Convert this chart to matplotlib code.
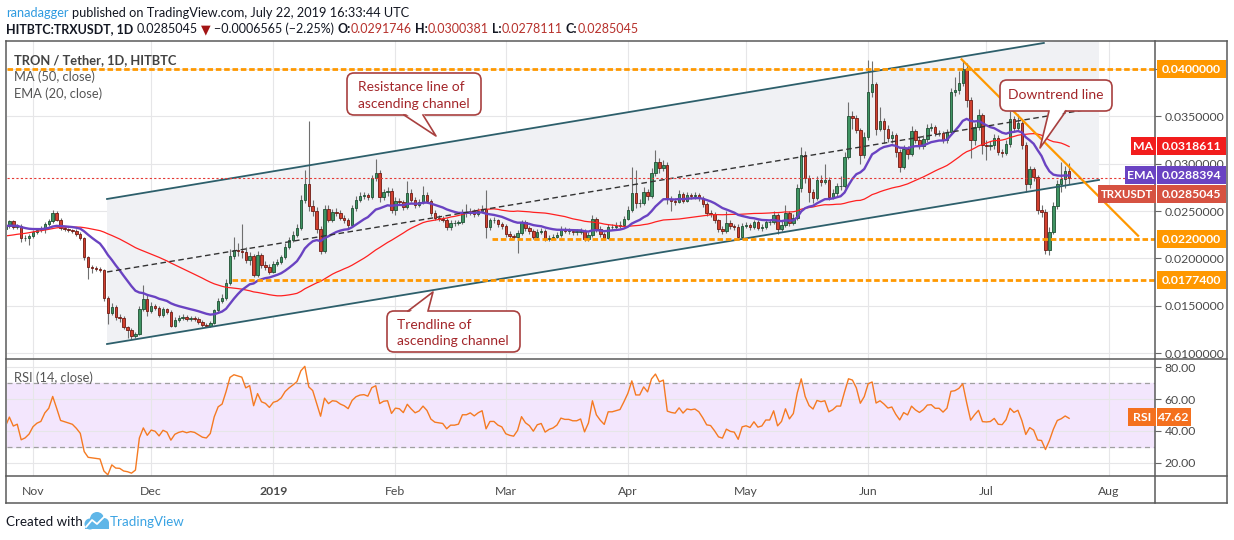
import numpy as np
import pandas as pd
import matplotlib
matplotlib.use("Agg")
import matplotlib.pyplot as plt
import matplotlib.dates as mdates
from matplotlib.patches import Rectangle, FancyBboxPatch, Polygon, Circle
from matplotlib.lines import Line2D

plt.rcParams['font.family'] = ['Lato', 'DejaVu Sans']

# ---------------- data ----------------
start_date = "2018-10-25"
first_open = 0.0231

closes = [
    0.0234, 0.0239, 0.0233, 0.0234, 0.0221, 0.0222, 0.0224, 0.0228, 0.0230, 0.0231,
    0.0236, 0.0239, 0.0248, 0.0241, 0.0232, 0.0231, 0.0230, 0.0229, 0.0226, 0.0222,
    0.0201, 0.0191, 0.0190, 0.0189, 0.0188, 0.0158, 0.0142, 0.0149, 0.0138, 0.0137,
    0.0127, 0.0124, 0.0118, 0.0120, 0.0146, 0.0157, 0.0144, 0.0150, 0.0148, 0.0140,
    0.0146, 0.0143, 0.0129, 0.0135, 0.0137, 0.0138, 0.0136, 0.0137, 0.0136, 0.0133,
    0.0130, 0.0129, 0.0132, 0.0145, 0.0155, 0.0158, 0.0174, 0.0202, 0.0209, 0.0208,
    0.0207, 0.0198, 0.0202, 0.0182, 0.0203, 0.0193, 0.0191, 0.0186, 0.0194, 0.0196,
    0.0201, 0.0212, 0.0219, 0.0225, 0.0232, 0.0262, 0.0279, 0.0255, 0.0250, 0.0231,
    0.0208, 0.0252, 0.0241, 0.0249, 0.0248, 0.0243, 0.0240, 0.0235, 0.0253, 0.0262,
    0.0266, 0.0267, 0.0265, 0.0285, 0.0290, 0.0265, 0.0270, 0.0271, 0.0251, 0.0261,
    0.0260, 0.0254, 0.0269, 0.0262, 0.0256, 0.0259, 0.0267, 0.0261, 0.0248, 0.0243,
    0.0242, 0.0241, 0.0233, 0.0237, 0.0237, 0.0238, 0.0248, 0.0248, 0.0250, 0.0247,
    0.0250, 0.0252, 0.0233, 0.0240, 0.0240, 0.0236, 0.0234, 0.0226, 0.0224, 0.0223,
    0.0227, 0.0238, 0.0232, 0.0229, 0.0223, 0.0228, 0.0229, 0.0220, 0.0222, 0.0223,
    0.0225, 0.0230, 0.0229, 0.0229, 0.0228, 0.0228, 0.0229, 0.0220, 0.0225, 0.0242,
    0.0231, 0.0226, 0.0222, 0.0233, 0.0233, 0.0234, 0.0235, 0.0242, 0.0251, 0.0269,
    0.0258, 0.0258, 0.0270, 0.0266, 0.0290, 0.0302, 0.0295, 0.0299, 0.0263, 0.0261,
    0.0260, 0.0268, 0.0261, 0.0267, 0.0266, 0.0267, 0.0264, 0.0257, 0.0248, 0.0247,
    0.0240, 0.0231, 0.0229, 0.0237, 0.0234, 0.0233, 0.0223, 0.0234, 0.0235, 0.0233,
    0.0238, 0.0232, 0.0233, 0.0238, 0.0238, 0.0246, 0.0231, 0.0235, 0.0248, 0.0237,
    0.0243, 0.0274, 0.0309, 0.0285, 0.0270, 0.0264, 0.0283, 0.0281, 0.0283, 0.0265,
    0.0269, 0.0276, 0.0276, 0.0307, 0.0350, 0.0348, 0.0336, 0.0309, 0.0328, 0.0376,
    0.0384, 0.0337, 0.0345, 0.0337, 0.0327, 0.0330, 0.0312, 0.0297, 0.0316, 0.0310,
    0.0334, 0.0325, 0.0319, 0.0326, 0.0338, 0.0339, 0.0332, 0.0332, 0.0325, 0.0333,
    0.0376, 0.0378, 0.0385, 0.0400, 0.0367, 0.0325, 0.0339, 0.0351, 0.0320, 0.0319,
    0.0320, 0.0327, 0.0312, 0.0311, 0.0321, 0.0347, 0.0338, 0.0343, 0.0320, 0.0279,
    0.0294, 0.0286, 0.0251, 0.0249, 0.0209, 0.0228, 0.0255, 0.0279, 0.0284, 0.0291746,
    0.0285045,
]

highs = [
    0.0237, 0.0241, 0.0240, 0.0236, 0.0236, 0.0225, 0.0226, 0.0230, 0.0232, 0.0234,
    0.0238, 0.0242, 0.0251, 0.0250, 0.0243, 0.0234, 0.0232, 0.0231, 0.0231, 0.0228,
    0.0223, 0.0202, 0.0193, 0.0192, 0.0191, 0.0189, 0.0160, 0.0153, 0.0151, 0.0141,
    0.0139, 0.0129, 0.0126, 0.0122, 0.0150, 0.0172, 0.0162, 0.0154, 0.0152, 0.0150,
    0.0149, 0.0148, 0.0145, 0.0138, 0.0140, 0.0141, 0.0140, 0.0139, 0.0139, 0.0138,
    0.0135, 0.0132, 0.0134, 0.0147, 0.0158, 0.0162, 0.0178, 0.0210, 0.0223, 0.0216,
    0.0236, 0.0212, 0.0207, 0.0205, 0.0208, 0.0206, 0.0197, 0.0194, 0.0197, 0.0199,
    0.0204, 0.0216, 0.0223, 0.0229, 0.0236, 0.0267, 0.0293, 0.0345, 0.0262, 0.0254,
    0.0234, 0.0256, 0.0256, 0.0252, 0.0253, 0.0251, 0.0246, 0.0243, 0.0256, 0.0266,
    0.0270, 0.0270, 0.0269, 0.0288, 0.0305, 0.0293, 0.0273, 0.0275, 0.0274, 0.0265,
    0.0264, 0.0262, 0.0282, 0.0273, 0.0265, 0.0263, 0.0276, 0.0270, 0.0263, 0.0251,
    0.0246, 0.0245, 0.0243, 0.0240, 0.0240, 0.0241, 0.0252, 0.0257, 0.0253, 0.0252,
    0.0253, 0.0256, 0.0272, 0.0243, 0.0244, 0.0242, 0.0238, 0.0236, 0.0229, 0.0226,
    0.0230, 0.0241, 0.0240, 0.0234, 0.0231, 0.0231, 0.0232, 0.0231, 0.0225, 0.0226,
    0.0228, 0.0234, 0.0233, 0.0232, 0.0231, 0.0231, 0.0232, 0.0231, 0.0228, 0.0246,
    0.0244, 0.0234, 0.0228, 0.0236, 0.0236, 0.0238, 0.0239, 0.0245, 0.0255, 0.0296,
    0.0293, 0.0263, 0.0275, 0.0273, 0.0295, 0.0314, 0.0306, 0.0304, 0.0302, 0.0266,
    0.0264, 0.0272, 0.0270, 0.0270, 0.0269, 0.0270, 0.0269, 0.0266, 0.0259, 0.0251,
    0.0249, 0.0242, 0.0234, 0.0250, 0.0240, 0.0236, 0.0236, 0.0237, 0.0238, 0.0237,
    0.0241, 0.0240, 0.0236, 0.0241, 0.0241, 0.0250, 0.0248, 0.0239, 0.0256, 0.0250,
    0.0247, 0.0278, 0.0318, 0.0313, 0.0288, 0.0273, 0.0287, 0.0288, 0.0300, 0.0286,
    0.0273, 0.0280, 0.0287, 0.0312, 0.0365, 0.0356, 0.0351, 0.0338, 0.0333, 0.0410,
    0.0408, 0.0386, 0.0360, 0.0348, 0.0341, 0.0334, 0.0332, 0.0315, 0.0320, 0.0319,
    0.0340, 0.0337, 0.0328, 0.0330, 0.0342, 0.0343, 0.0341, 0.0336, 0.0334, 0.0337,
    0.0380, 0.0392, 0.0398, 0.0410, 0.0406, 0.0370, 0.0343, 0.0358, 0.0354, 0.0325,
    0.0324, 0.0331, 0.0330, 0.0316, 0.0325, 0.0356, 0.0350, 0.0352, 0.0346, 0.0323,
    0.0298, 0.0297, 0.0288, 0.0256, 0.0252, 0.0233, 0.0259, 0.0283, 0.0302, 0.0298,
    0.0300381,
]

lows = [
    0.0229, 0.0232, 0.0231, 0.0231, 0.0217, 0.0218, 0.0214, 0.0222, 0.0226, 0.0228,
    0.0227, 0.0234, 0.0237, 0.0239, 0.0230, 0.0229, 0.0228, 0.0227, 0.0224, 0.0219,
    0.0198, 0.0178, 0.0184, 0.0187, 0.0186, 0.0155, 0.0131, 0.0140, 0.0135, 0.0133,
    0.0125, 0.0116, 0.0115, 0.0116, 0.0119, 0.0144, 0.0139, 0.0142, 0.0145, 0.0138,
    0.0138, 0.0141, 0.0127, 0.0127, 0.0133, 0.0135, 0.0134, 0.0134, 0.0134, 0.0131,
    0.0128, 0.0127, 0.0127, 0.0131, 0.0143, 0.0153, 0.0156, 0.0172, 0.0199, 0.0202,
    0.0200, 0.0195, 0.0193, 0.0180, 0.0180, 0.0190, 0.0188, 0.0183, 0.0185, 0.0192,
    0.0194, 0.0199, 0.0210, 0.0217, 0.0223, 0.0230, 0.0258, 0.0250, 0.0245, 0.0227,
    0.0205, 0.0206, 0.0238, 0.0238, 0.0245, 0.0240, 0.0237, 0.0232, 0.0233, 0.0250,
    0.0259, 0.0263, 0.0262, 0.0263, 0.0282, 0.0260, 0.0262, 0.0266, 0.0248, 0.0246,
    0.0256, 0.0251, 0.0252, 0.0259, 0.0253, 0.0254, 0.0257, 0.0258, 0.0245, 0.0240,
    0.0239, 0.0238, 0.0230, 0.0230, 0.0234, 0.0235, 0.0236, 0.0244, 0.0246, 0.0244,
    0.0245, 0.0248, 0.0222, 0.0230, 0.0237, 0.0233, 0.0231, 0.0223, 0.0221, 0.0220,
    0.0206, 0.0225, 0.0229, 0.0226, 0.0220, 0.0221, 0.0226, 0.0218, 0.0218, 0.0220,
    0.0221, 0.0223, 0.0227, 0.0226, 0.0225, 0.0225, 0.0226, 0.0218, 0.0218, 0.0223,
    0.0228, 0.0223, 0.0219, 0.0220, 0.0230, 0.0231, 0.0232, 0.0233, 0.0240, 0.0249,
    0.0253, 0.0254, 0.0256, 0.0262, 0.0264, 0.0287, 0.0290, 0.0292, 0.0257, 0.0250,
    0.0256, 0.0258, 0.0258, 0.0259, 0.0263, 0.0263, 0.0261, 0.0254, 0.0245, 0.0244,
    0.0237, 0.0228, 0.0226, 0.0227, 0.0231, 0.0230, 0.0221, 0.0221, 0.0232, 0.0230,
    0.0231, 0.0230, 0.0229, 0.0231, 0.0235, 0.0236, 0.0226, 0.0229, 0.0233, 0.0234,
    0.0235, 0.0241, 0.0270, 0.0280, 0.0260, 0.0258, 0.0262, 0.0276, 0.0278, 0.0262,
    0.0263, 0.0266, 0.0272, 0.0274, 0.0305, 0.0337, 0.0332, 0.0300, 0.0306, 0.0325,
    0.0370, 0.0330, 0.0334, 0.0322, 0.0323, 0.0322, 0.0307, 0.0291, 0.0294, 0.0305,
    0.0308, 0.0322, 0.0316, 0.0316, 0.0323, 0.0334, 0.0329, 0.0329, 0.0322, 0.0322,
    0.0330, 0.0372, 0.0374, 0.0382, 0.0360, 0.0306, 0.0320, 0.0336, 0.0310, 0.0304,
    0.0314, 0.0315, 0.0309, 0.0307, 0.0309, 0.0318, 0.0334, 0.0336, 0.0316, 0.0270,
    0.0274, 0.0282, 0.0247, 0.0244, 0.0205, 0.0203, 0.0226, 0.0252, 0.0270, 0.0274,
    0.0278111,
]

# closes of Sep 5 - Oct 24 2018, only used to warm up MA / EMA / RSI
prior_closes = [
    0.0235, 0.0212, 0.0205, 0.0200, 0.0198, 0.0196, 0.0190, 0.0186, 0.0195, 0.0201,
    0.0203, 0.0200, 0.0205, 0.0206, 0.0210, 0.0214, 0.0228, 0.0226, 0.0230, 0.0225,
    0.0228, 0.0226, 0.0232, 0.0230, 0.0229, 0.0232, 0.0236, 0.0234, 0.0231, 0.0233,
    0.0236, 0.0237, 0.0235, 0.0236, 0.0238, 0.0240, 0.0226, 0.0228, 0.0231, 0.0235,
    0.0238, 0.0240, 0.0237, 0.0236, 0.0238, 0.0237, 0.0236, 0.0238, 0.0234, 0.0231,
]

last_price = 0.0285045
ma_last = 0.0318611
ema_last = 0.0288394
rsi_last = 47.62
price_ticks = [0.010, 0.015, 0.020, 0.025, 0.030, 0.035, 0.040]
rsi_ticks = [20, 40, 60, 80]
month_starts = ["2018-11-01", "2018-12-01", "2019-01-01", "2019-02-01", "2019-03-01",
                "2019-04-01", "2019-05-01", "2019-06-01", "2019-07-01", "2019-08-01"]
month_labels = ["Nov", "Dec", "2019", "Feb", "Mar", "Apr", "May", "Jun", "Jul", "Aug"]

# horizontal levels (price, start date)
levels = [(0.0400, "2018-10-25"), (0.0220, "2019-02-25 12:00"), (0.01774, "2018-12-21 10:00")]
level_texts = ["0.0400000", "0.0220000", "0.0177400"]
# drawings: (date, price) anchors
upper_channel = [("2018-11-19 19:00", 0.02627), ("2019-07-15 14:00", 0.04275)]
lower_channel = [("2018-11-19 19:00", 0.01095), ("2019-07-29 14:00", 0.02828)]
mid_channel = [("2018-11-19 19:00", 0.01856), ("2019-07-29 19:00", 0.03595)]
downtrend = [("2019-06-24 17:00", 0.04102), ("2019-08-08 12:00", 0.02239)]

# ---------------- computations ----------------
dates = pd.date_range(start_date, periods=len(closes), freq="D")
x = mdates.date2num(dates)
c = np.array(closes)
o = np.array([first_open] + closes[:-1])
h = np.array(highs)
l = np.array(lows)

allc = pd.Series(prior_closes + closes)
n0 = len(prior_closes)
ma = allc.rolling(50).mean().values[n0:]
ema = allc.ewm(span=20, adjust=False).mean().values[n0:]
d = allc.diff()
ag = d.clip(lower=0).ewm(alpha=1 / 14, adjust=False).mean()
al = (-d.clip(upper=0)).ewm(alpha=1 / 14, adjust=False).mean()
rsi = (100 - 100 / (1 + ag / al)).values[n0:]

def dn(s):
    return mdates.date2num(pd.Timestamp(s))

# ---------------- figure ----------------
W, H = 1234, 540
fig = plt.figure(figsize=(W / 100, H / 100), dpi=100, facecolor="white")

def frac(x0, y0, x1, y1):
    return [x0 / W, 1 - y1 / H, (x1 - x0) / W, (y1 - y0) / H]

ax = fig.add_axes(frac(7, 41, 1155, 359))
axr = fig.add_axes(frac(7, 359, 1155, 476))
x0 = x[0] + 0.4
x1 = x[0] + 291.8
for a in (ax, axr):
    a.set_xlim(x0, x1)
    for s in a.spines.values():
        s.set_visible(False)
ax.set_ylim(0.009367, 0.042958)
axr.set_ylim(11.6, 85.2)

mnum = [dn(m) for m in month_starts]
grid_c = "#e6e6e8"
for a in (ax, axr):
    a.set_xticks(mnum)
    a.grid(True, color=grid_c, lw=0.8, zorder=0)
    a.set_axisbelow(True)
ax.set_xticklabels([])
ax.tick_params(axis="x", length=0)
axr.set_xticklabels(month_labels)
axr.tick_params(axis="x", length=0, pad=7, labelsize=8.8, labelcolor="#4a4a4a")
axr.get_xticklabels()[2].set_fontweight("bold")

ax.yaxis.tick_right()
ax.set_yticks(price_ticks)
# the top tick label sits under the orange 0.0400000 level tag, as in the reference
ax.set_yticklabels(["%.7f" % p if p < 0.0399 else "" for p in price_ticks])
ax.tick_params(axis="y", length=4, width=0.8, color="#666666", labelsize=8.8,
               labelcolor="#4a4a4a", pad=3)
axr.yaxis.tick_right()
axr.set_yticks(rsi_ticks)
axr.set_yticklabels(["%.2f" % v for v in rsi_ticks])
axr.tick_params(axis="y", length=4, width=0.8, color="#666666", labelsize=8.8,
                labelcolor="#4a4a4a", pad=3)

# channel fill
ux = [dn(p[0]) for p in upper_channel]
uy = [p[1] for p in upper_channel]
lx = [dn(p[0]) for p in lower_channel]
ly = [p[1] for p in lower_channel]
slope_u = (uy[1] - uy[0]) / (ux[1] - ux[0])
u_end = uy[0] + slope_u * (lx[1] - ux[0])
ax.add_patch(Polygon([(ux[0], uy[0]), (lx[1], u_end), (lx[1], ly[1]), (lx[0], ly[0])],
                     closed=True, fc="#f0f1f4", ec="none", zorder=0.6))

# candles
up = c >= o
bot = np.minimum(o, c)
bh = np.maximum(np.abs(c - o), 0.00005)
ax.vlines(x, l, h, color="#6f6f6f", lw=0.8, zorder=2)
ax.bar(x[up], bh[up], bottom=bot[up], width=0.62, color="#3f9463", edgecolor="#1f4f33",
       lw=0.6, zorder=3)
ax.bar(x[~up], bh[~up], bottom=bot[~up], width=0.62, color="#d1402f", edgecolor="#6e1b14",
       lw=0.6, zorder=3)

# indicators
ax.plot(x, ma, color="#ff2020", lw=0.9, zorder=4)
ax.plot(x, ema, color="#6a43c2", lw=1.7, zorder=4)

# drawings
ax.plot(ux, uy, color="#2d5f6b", lw=1.3, zorder=5)
ax.plot(lx, ly, color="#2d5f6b", lw=1.3, zorder=5)
ax.plot([dn(p[0]) for p in mid_channel], [p[1] for p in mid_channel], color="#333333",
        lw=1.0, ls=(0, (4, 2.5)), zorder=5)
ax.plot([dn(p[0]) for p in downtrend], [p[1] for p in downtrend], color="#ff9800",
        lw=1.6, zorder=5)
for (lv, sd) in levels:
    ax.plot([max(dn(sd), x0), x1], [lv, lv], color="#ff9800", lw=2.0, ls=(0, (2, 1)),
            zorder=5)
ax.axhline(last_price, color="#e53935", lw=0.8, ls=(0, (2, 2)), zorder=5)

# RSI
axr.axhspan(30, 70, color="#f3e6fd", zorder=0.5)
axr.axhline(70, color="#a0a0a0", lw=0.9, ls=(0, (4, 3)), zorder=1)
axr.axhline(30, color="#a0a0a0", lw=0.9, ls=(0, (4, 3)), zorder=1)
axr.plot(x, rsi, color="#f57a22", lw=1.0, zorder=3)

# ---------------- overlay ----------------
ov = fig.add_axes([0, 0, 1, 1])
ov.set_xlim(0, W)
ov.set_ylim(H, 0)
ov.axis("off")
ov.patch.set_visible(False)

def py(p):
    return H - ax.transData.transform((x0, p))[1]

def ry(v):
    return H - axr.transData.transform((x0, v))[1]

frame_c = "#5a5a5a"
for seg in [((6, 41), (1227, 41)), ((6, 503), (1227, 503)), ((6, 41), (6, 503)),
            ((1227, 41), (1227, 503)), ((6, 359), (1227, 359)), ((6, 476), (1227, 476)),
            ((1155, 41), (1155, 503))]:
    ov.add_line(Line2D([seg[0][0], seg[1][0]], [seg[0][1], seg[1][1]], color=frame_c,
                       lw=1.1, zorder=9))

def tag(xa, xb, yc, text, col, hh=18, fs=8.8):
    ov.add_patch(Rectangle((xa, yc - hh / 2), xb - xa, hh, fc=col, ec="none", zorder=10))
    ov.text((xa + xb) / 2, yc + 0.5, text, color="white", fontsize=fs, fontweight="bold",
            ha="center", va="center", zorder=11)

for (lv, sd), t in zip(levels, level_texts):
    tag(1157, 1226, py(lv), t, "#ff9800")
tag(1131, 1156, py(ma_last), "MA", "#f21d1d")
tag(1157, 1226, py(ma_last), "%.7f" % ma_last, "#f21d1d")
tag(1125, 1156, py(ema_last), "EMA", "#6a43c2")
tag(1157, 1226, py(ema_last), "%.7f" % ema_last, "#6a43c2")
tag(1098, 1156, py(last_price) + 16.5, "TRXUSDT", "#d65241", fs=8.3)
tag(1157, 1226, py(last_price) + 16.5, "%.7f" % last_price, "#d65241")
tag(1128, 1156, ry(rsi_last) - 2, "RSI", "#f4701e")
tag(1157, 1191, ry(rsi_last) - 2, "%.2f" % rsi_last, "#f4701e")

# pane titles
ov.text(14, 60, "TRON / Tether, 1D, HITBTC", color="#434343", fontsize=9.3,
        fontweight="bold", va="center", zorder=8)
ov.text(14, 77, "MA (50, close)", color="#555555", fontsize=9.3, va="center", zorder=8)
ov.text(14, 94, "EMA (20, close)", color="#555555", fontsize=9.3, va="center", zorder=8)
ov.text(14, 378, "RSI (14, close)", color="#555555", fontsize=9.3, va="center", zorder=8)

# callouts
edge_c = "#a8403f"
text_c = "#a3262a"

def callout(bx0, by0, bx1, by1, base, tip, lines, ha, tx, tys):
    # base = (left x, right x, y inside box, y on box edge)
    ov.add_patch(FancyBboxPatch((bx0, by0), bx1 - bx0, by1 - by0,
                                boxstyle="round,pad=0,rounding_size=7", fc="white",
                                ec=edge_c, lw=1.2, zorder=12))
    b0, b1, yin, yedge = base
    ov.add_patch(Polygon([(b0, yin), (b1, yin), tip], closed=True, fc="white", ec="none",
                         zorder=13))
    ov.add_line(Line2D([b0, tip[0], b1], [yedge, tip[1], yedge], color=edge_c, lw=1.2,
                       zorder=14))
    for s, ty in zip(lines, tys):
        ov.text(tx, ty, s, color=text_c, fontsize=10, ha=ha, va="center", zorder=15)

callout(347, 73, 481, 115, (404, 423, 112.5, 115), (436, 136),
        ["Resistance line of", "ascending channel"], "left", 358, [87, 104])
callout(387, 311, 520, 352, (408, 428, 313.5, 311), (433, 292),
        ["Trendline of", "ascending channel"], "left", 397, [325, 341])
callout(1000, 80, 1112, 111, (1049, 1066, 108.5, 111), (1040, 148),
        ["Downtrend line"], "center", 1056, [95])

# header
renderer = fig.canvas.get_renderer()

def twidth(s, **kw):
    t = ov.text(0, 0, s, **kw)
    w = t.get_window_extent(renderer).width
    t.remove()
    return w

def runs(xs, ys, items, fs):
    sp = twidth("a a", fontsize=fs) - twidth("aa", fontsize=fs)
    xc = xs
    for s, col, wt, gap in items:
        t = ov.text(xc, ys, s, color=col, fontsize=fs, fontweight=wt, ha="left",
                    va="center", zorder=15)
        xc += t.get_window_extent(renderer).width + (sp if gap else 0)

blk = "#131722"
red = "#b7312c"
runs(6, 13, [("ranadagger", "#2f9be0", "normal", True),
             ("published on TradingView.com, July 22, 2019 16:33:44 UTC", blk, "normal", False)],
     9.2)
runs(6, 29, [("HITBTC:TRXUSDT, 1D", blk, "bold", True),
             ("0.0285045", blk, "normal", True),
             ("\u25bc", "#a31515", "normal", True),
             ("\u22120.0006565 (\u22122.25%)", blk, "normal", True),
             ("O:", blk, "bold", False), ("0.0291746", red, "normal", True),
             ("H:", blk, "bold", False), ("0.0300381", red, "normal", True),
             ("L:", blk, "bold", False), ("0.0278111", red, "normal", True),
             ("C:", blk, "bold", False), ("0.0285045", red, "normal", False)], 9.0)

# footer
ov.text(6, 522, "Created with", color=blk, fontsize=9.6, va="center", zorder=15)
logo_c = "#5fb6e8"
for (cx, cy, r) in [(90, 524, 5.5), (97, 519, 7), (104, 523, 5)]:
    ov.add_patch(Circle((cx, cy), r, fc=logo_c, ec="none", zorder=15))
ov.add_patch(Rectangle((85, 523), 24, 6, fc=logo_c, ec="none", zorder=15))
ov.add_line(Line2D([86, 92, 97, 105], [527, 520, 524, 516], color="white", lw=1.3,
                   zorder=16))
ov.text(110, 522, "TradingView", color="#3aa3e3", fontsize=9.6, va="center", zorder=15)

fig.savefig("out.png", dpi=100, facecolor="white")
